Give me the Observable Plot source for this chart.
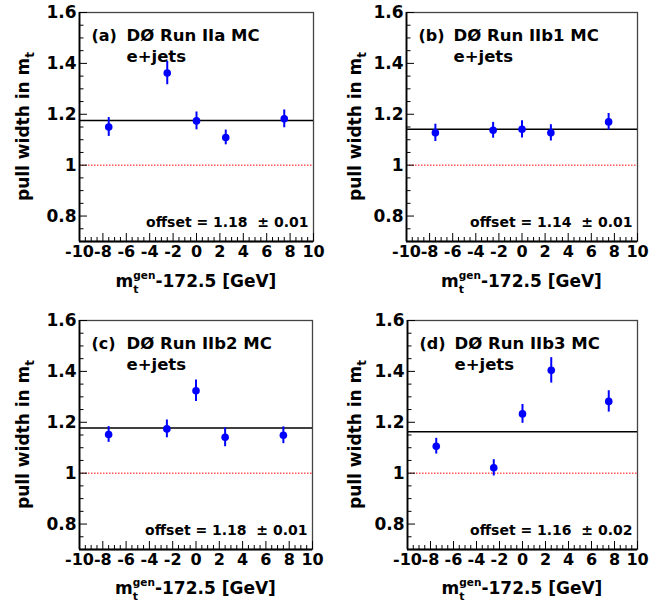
<!DOCTYPE html>
<html><head><meta charset="utf-8">
<script src="https://cdn.jsdelivr.net/npm/d3@7"></script>
<script src="https://cdn.jsdelivr.net/npm/@observablehq/plot@0.6"></script>
<style>
body{margin:0;background:#fff;}
#wrap{position:relative;width:665px;height:610px;overflow:hidden;background:#fff;}
.panel{position:absolute;}
</style></head><body><div id="wrap"></div>
<script>
// ---- data ----
const massPoints = [-7.5, -2.5, 0, 2.5, 7.5];
const panelLabels = ["(a)", "(b)", "(c)", "(d)"];
const panelTitles = ["DØ Run IIa MC", "DØ Run IIb1 MC", "DØ Run IIb2 MC", "DØ Run IIb3 MC"];
const channelLabel = "e+jets";
const pullA = [1.150, 1.362, 1.174, 1.109, 1.182];
const errA  = [0.037, 0.046, 0.035, 0.029, 0.035];
const pullB = [1.127, 1.137, 1.141, 1.127, 1.170];
const errB  = [0.034, 0.031, 0.034, 0.032, 0.033];
const pullC = [1.152, 1.174, 1.324, 1.141, 1.149];
const errC  = [0.031, 0.035, 0.042, 0.037, 0.033];
const pullD = [1.106, 1.021, 1.233, 1.404, 1.282];
const errD  = [0.031, 0.032, 0.037, 0.050, 0.042];
const fitOffsets = [1.176, 1.141, 1.178, 1.163];
const offsetTexts = ["1.18", "1.14", "1.18", "1.16"];
const offsetErrTexts = ["0.01", "0.01", "0.01", "0.02"];
const referenceWidth = 1;
const xTickLabels = [-10, -8, -6, -4, -2, 0, 2, 4, 6, 8, 10];
const yTickLabels = [0.8, 1, 1.2, 1.4, 1.6];
const xDomain = [-10, 10];
const yDomain = [0.7, 1.6];

const pulls = [pullA, pullB, pullC, pullD];
const errs = [errA, errB, errC, errD];

const layout = [
  {left: 0,   top: 0,   width: 332, height: 300, ml: 79, mr: 19, mt: 12, mb: 59, xl: 287},
  {left: 332, top: 0,   width: 333, height: 300, ml: 74, mr: 28, mt: 12, mb: 59, xl: 287},
  {left: 0,   top: 300, width: 332, height: 310, ml: 79, mr: 20, mt: 20, mb: 61, xl: 294},
  {left: 332, top: 300, width: 333, height: 310, ml: 75, mr: 28, mt: 20, mb: 61, xl: 294}
];

const FONT = "'DejaVu Sans', sans-serif";
const BLUE = "#0000ff";
const wrap = document.getElementById("wrap");

const xMinor = d3.range(-10, 10.001, 0.5).filter(v => Math.abs(v / 2 - Math.round(v / 2)) > 1e-6);
const yMajor = yTickLabels;
const yMinor = d3.range(0.75, 1.6, 0.05).map(v => +v.toFixed(2)).filter(v => !yMajor.some(m => Math.abs(m - v) < 1e-6));
const fmtX = d => String(d).replace("−", "-");

// measure a string in an isolated text element
function measure(svgSel, str, size) {
  const tmp = svgSel.append("text").attr("font-family", FONT).attr("font-weight", "bold")
    .attr("text-anchor", "start").attr("font-size", size).text(str);
  const w = tmp.node().getComputedTextLength();
  tmp.remove();
  return w;
}

layout.forEach((L, i) => {
  const data = massPoints.map((x, j) => ({x, y: pulls[i][j], e: errs[i][j]}));
  const innerW = L.width - L.ml - L.mr;
  const innerH = L.height - L.mt - L.mb;
  const svg = Plot.plot({
    width: L.width, height: L.height,
    marginLeft: L.ml, marginRight: L.mr, marginTop: L.mt, marginBottom: L.mb,
    x: {domain: xDomain, axis: null},
    y: {domain: yDomain, axis: null},
    style: {fontFamily: FONT, fontWeight: "bold", background: "#fff", overflow: "visible"},
    marks: [
      Plot.frame({stroke: "#444", strokeWidth: 1.3}),
      Plot.ruleY([referenceWidth], {stroke: "#ff0000", strokeWidth: 1, strokeDasharray: "1.5,1.5"}),
      Plot.ruleY([fitOffsets[i]], {stroke: "#000", strokeWidth: 1.5}),
      // ticks (inside the frame, ROOT style)
      Plot.tickX(xTickLabels, {x: d => d, insetTop: innerH - 8, stroke: "#000", strokeWidth: 1}),
      Plot.tickX(xMinor, {x: d => d, insetTop: innerH - 4, stroke: "#000", strokeWidth: 1}),
      Plot.tickY(yMajor, {y: d => d, insetRight: innerW - 8, stroke: "#000", strokeWidth: 1}),
      Plot.tickY(yMinor, {y: d => d, insetRight: innerW - 4.5, stroke: "#000", strokeWidth: 1}),
      Plot.ruleX([xDomain[0]], {stroke: "#000", strokeWidth: 1.8}),
      Plot.ruleY([yDomain[0]], {stroke: "#000", strokeWidth: 1.8}),
      // tick labels
      Plot.text(xTickLabels, {x: d => d, frameAnchor: "bottom", dy: 15, text: fmtX, fontSize: 16, fill: "#000"}),
      Plot.text(yTickLabels, {y: d => d, frameAnchor: "left", textAnchor: "end", dx: -3, text: d => String(d), fontSize: 17, fill: "#000"}),
      // data
      Plot.ruleX(data, {x: "x", y1: d => d.y - d.e, y2: d => d.y + d.e, stroke: BLUE, strokeWidth: 2}),
      Plot.dot(data, {x: "x", y: "y", r: 3.8, fill: BLUE, stroke: "none"}),
      // annotations
      Plot.text([panelLabels[i]], {frameAnchor: "top-left", textAnchor: "start", dx: 12, dy: 17, fontSize: 16, fill: "#000"}),
      Plot.text([panelTitles[i]], {frameAnchor: "top-left", textAnchor: "start", dx: 47, dy: 17, fontSize: 16.5, fill: "#000"}),
      Plot.text([channelLabel], {frameAnchor: "top-left", textAnchor: "start", dx: 47, dy: 38, fontSize: 16.5, fill: "#000"}),
      Plot.text([`offset = ${offsetTexts[i]}  ± ${offsetErrTexts[i]}`], {frameAnchor: "bottom-right", textAnchor: "end", dx: -5, dy: -14.5, fontSize: 14, fill: "#000"})
    ]
  });
  const div = document.createElement("div");
  div.className = "panel";
  div.style.left = L.left + "px";
  div.style.top = L.top + "px";
  div.appendChild(svg);
  wrap.appendChild(div);

  const g = d3.select(svg);
  // x-axis title with super/subscript
  const genSize = 10.5, tSize = 11, mainSize = 17;
  const mW = measure(g, "m", mainSize);
  const genW = measure(g, "gen", genSize);
  const tW = measure(g, "t", tSize);
  const restW = measure(g, "-172.5 [GeV]", mainSize);
  const total = mW + genW + restW;
  const cx = L.ml + innerW / 2;
  const xl = g.append("text").attr("font-family", FONT).attr("font-weight", "bold")
    .attr("text-anchor", "start")
    .attr("font-size", mainSize).attr("fill", "#000").attr("y", L.xl).attr("x", cx - total / 2);
  xl.append("tspan").text("m");
  xl.append("tspan").attr("font-size", genSize).attr("dy", -8).text("gen");
  xl.append("tspan").attr("font-size", tSize).attr("dx", -genW).attr("dy", 14).text("t");
  xl.append("tspan").attr("dx", genW - tW).attr("dy", -6).text("-172.5 [GeV]");

  // y-axis title with subscript
  const cy = L.mt + innerH / 2;
  const yl = g.append("text").attr("font-family", FONT).attr("font-weight", "bold")
    .attr("font-size", 17).attr("fill", "#000").attr("text-anchor", "middle")
    .attr("transform", `translate(29,${cy}) rotate(-90)`);
  yl.append("tspan").text("pull width in m");
  yl.append("tspan").attr("font-size", 12).attr("dy", 5).text("t");
});
</script>
</body></html>
